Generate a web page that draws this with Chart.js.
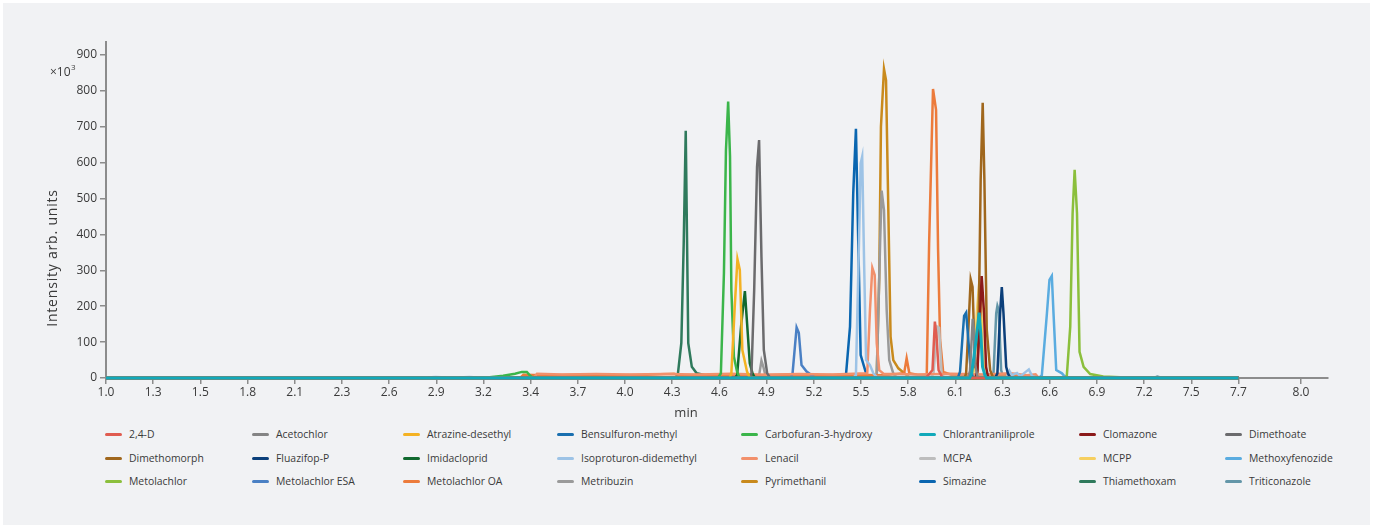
<!DOCTYPE html>
<html>
<head>
<meta charset="utf-8">
<script src="https://cdn.jsdelivr.net/npm/chart.js@4.4.1/dist/chart.umd.min.js"></script>
<style>
  html, body { margin: 0; padding: 0; background: #ffffff; }
  #panel { position: absolute; left: 3px; top: 3px; width: 1367px; height: 522px; background: #f1f2f4; }
  #chart { position: absolute; left: -3px; top: -3px; }
  .lg { position: absolute; font: 10.4px "Open Sans", sans-serif; color: #3a3a3a; white-space: nowrap; line-height: 14px; }
  .lg i { display: inline-block; width: 17px; height: 3px; border-radius: 2px; vertical-align: middle; margin-right: 7px; position: relative; top: -1px; }
</style>
</head>
<body>
<div id="panel">
  <canvas id="chart" width="1373" height="420"></canvas>
  <div id="legend"></div>
</div>
<script>
// compound names, legend order
var compounds = ['2,4-D', 'Acetochlor', 'Atrazine-desethyl', 'Bensulfuron-methyl', 'Carbofuran-3-hydroxy',
  'Chlorantraniliprole', 'Clomazone', 'Dimethoate', 'Dimethomorph', 'Fluazifop-P', 'Imidacloprid',
  'Isoproturon-didemethyl', 'Lenacil', 'MCPA', 'MCPP', 'Methoxyfenozide', 'Metolachlor', 'Metolachlor ESA',
  'Metolachlor OA', 'Metribuzin', 'Pyrimethanil', 'Simazine', 'Thiamethoxam', 'Triticonazole'];

var colors = ['#e05c50', '#848484', '#f4b223', '#1a6faf', '#3bb54a', '#12a9ba', '#8b1a1a', '#6b6b6d',
  '#a0671d', '#0b3f7a', '#11692f', '#9dc3e6', '#f2906b', '#bdbdbd', '#f6cf5f', '#5aace0', '#8bbf3c',
  '#4a80c4', '#ec7b3b', '#9a9a9a', '#c98a1c', '#0a66b0', '#2f7a5c', '#6396a8'];

// [time min, intensity x10^3]
var d24D = [[1.0,0],[5.85,0],[5.89,22],[5.904,157],[5.914,115],[5.926,22],[5.95,0],[7.7,0]];
var acetochlor = [[1.0,0],[6.10,0],[6.112,20],[6.122,110],[6.128,165],[6.134,140],[6.142,40],[6.155,5],[6.17,0],[7.7,0]];
var atrazineDesethyl = [[1.0,0],[4.69,0],[4.700,13],[4.720,199],[4.736,331],[4.750,301],[4.765,78],[4.793,17],[4.81,0],[7.7,0]];
var bensulfuronMethyl = [[1.0,0],[6.04,0],[6.053,18],[6.069,124],[6.077,173],[6.089,182],[6.102,106],[6.116,22],[6.13,0],[7.7,0]];
var carbofuran3OH = [[1.0,0],[3.20,0],[3.27,2],[3.35,6],[3.42,12],[3.46,17],[3.49,17],[3.51,6],[3.53,0],[4.62,0],[4.638,13],[4.656,292],[4.668,635],[4.681,770],[4.692,617],[4.700,245],[4.715,59],[4.734,17],[4.75,0],[7.7,0]];
var chlorantraniliprole = [[1.0,0],[6.11,0],[6.122,13],[6.148,106],[6.166,182],[6.176,124],[6.186,31],[6.2,8],[6.21,0],[7.7,0]];
var clomazone = [[1.0,0],[6.145,0],[6.156,22],[6.172,180],[6.181,284],[6.195,180],[6.207,31],[6.22,0],[7.7,0]];
var dimethoate = [[1.0,0],[4.81,0],[4.819,13],[4.835,245],[4.852,589],[4.864,663],[4.878,338],[4.892,78],[4.912,13],[4.93,0],[7.7,0]];
var dimethomorph = [[1.0,0],[6.08,0],[6.089,13],[6.102,134],[6.116,275],[6.127,254],[6.142,31],[6.156,22],[6.167,273],[6.175,552],[6.187,767],[6.197,552],[6.211,134],[6.231,22],[6.25,0],[7.7,0]];
var fluazifopP = [[1.0,0],[6.26,0],[6.274,13],[6.290,180],[6.300,253],[6.310,180],[6.326,31],[6.336,13],[6.35,0],[7.7,0]];
var imidacloprid = [[1.0,0],[4.72,0],[4.734,8],[4.759,152],[4.780,242],[4.793,152],[4.809,41],[4.825,13],[4.84,0],[7.7,0]];
var isoproturonDidemethyl = [[1.0,0],[2.85,0],[2.95,3],[3.05,1],[3.15,3],[3.25,0],[5.42,0],[5.437,8],[5.455,376],[5.465,598],[5.474,617],[5.485,329],[5.497,50],[5.520,36],[5.540,13],[5.56,3],[6.33,3],[6.345,20],[6.36,8],[6.39,14],[6.41,5],[6.46,24],[6.48,5],[6.52,0],[7.7,0]];
var lenacil = [[1.0,0],[3.53,0],[3.55,12],[3.7,10],[3.9,11],[4.1,10],[4.3,11],[4.5,10],[4.7,12],[4.9,9],[5.1,11],[5.3,10],[5.504,13],[5.520,189],[5.534,307],[5.548,287],[5.560,97],[5.575,22],[5.6,12],[5.8,10],[6.0,12],[6.2,10],[6.35,13],[6.45,8],[6.5,10],[6.52,0],[7.7,0]];
var mcpa = [[1.0,0],[5.88,0],[5.896,13],[5.918,143],[5.929,140],[5.944,13],[5.96,0],[7.7,0]];
var mcpp = [[1.0,0],[6.125,0],[6.136,22],[6.152,180],[6.166,262],[6.176,236],[6.186,87],[6.195,22],[6.21,0],[7.7,0]];
var methoxyfenozide = [[1.0,0],[6.52,0],[6.537,8],[6.567,180],[6.582,273],[6.596,284],[6.606,180],[6.622,22],[6.656,13],[6.68,0],[7.7,0]];
var metolachlor = [[1.0,0],[6.67,0],[6.685,8],[6.705,143],[6.719,459],[6.731,580],[6.745,459],[6.760,73],[6.784,31],[6.823,11],[6.9,4],[7.0,2],[7.1,0],[7.7,0]];
var metolachlorEsa = [[1.0,0],[5.05,0],[5.062,13],[5.086,141],[5.099,126],[5.115,36],[5.145,18],[5.174,8],[5.2,0],[7.7,0]];
var metolachlorOa = [[1.0,0],[3.45,0],[3.47,9],[3.6,8],[3.8,9],[4.0,8],[4.2,9],[4.36,12],[4.4,8],[4.6,9],[4.8,8],[5.0,9],[5.2,8],[5.4,9],[5.6,8],[5.722,13],[5.737,55],[5.753,13],[5.8,9],[5.856,8],[5.870,375],[5.893,805],[5.911,747],[5.923,357],[5.935,106],[5.953,17],[6.0,9],[6.2,8],[6.4,9],[6.45,0],[7.7,0]];
var metribuzin = [[1.0,0],[4.86,0],[4.866,13],[4.878,48],[4.89,30],[4.905,0],[5.55,0],[5.560,8],[5.580,375],[5.589,522],[5.603,468],[5.619,189],[5.634,50],[5.658,13],[5.68,0],[7.7,0]];
var pyrimethanil = [[1.0,0],[5.55,0],[5.560,8],[5.575,282],[5.585,700],[5.603,861],[5.615,830],[5.642,115],[5.658,50],[5.688,27],[5.737,8],[5.76,0],[7.7,0]];
var simazine = [[1.0,0],[5.36,0],[5.378,8],[5.402,143],[5.421,514],[5.437,694],[5.451,375],[5.465,64],[5.500,8],[5.52,0],[7.7,0]];
var thiamethoxam = [[1.0,0],[4.37,0],[4.384,13],[4.404,98],[4.418,374],[4.430,689],[4.445,97],[4.466,31],[4.495,13],[4.57,5],[4.6,0],[7.7,0]];
var triticonazole = [[1.0,0],[6.24,0],[6.251,13],[6.267,180],[6.274,201],[6.282,189],[6.296,22],[6.31,0],[7.2,0],[7.22,4],[7.25,0],[7.7,0]];

var series = [d24D, acetochlor, atrazineDesethyl, bensulfuronMethyl, carbofuran3OH, chlorantraniliprole,
  clomazone, dimethoate, dimethomorph, fluazifopP, imidacloprid, isoproturonDidemethyl, lenacil, mcpa, mcpp,
  methoxyfenozide, metolachlor, metolachlorEsa, metolachlorOa, metribuzin, pyrimethanil, simazine,
  thiamethoxam, triticonazole];

// axis ticks (x labels are as printed on the original)
var xTickValues = [1.0, 1.279, 1.558, 1.838, 2.117, 2.396, 2.675, 2.954, 3.233, 3.513, 3.792, 4.071, 4.35,
  4.629, 4.908, 5.188, 5.467, 5.746, 6.025, 6.304, 6.583, 6.863, 7.142, 7.421, 7.7, 8.07];
var xTickLabels = ['1.0', '1.3', '1.5', '1.8', '2.1', '2.3', '2.6', '2.9', '3.2', '3.4', '3.7', '4.0', '4.3',
  '4.6', '4.9', '5.2', '5.5', '5.8', '6.1', '6.3', '6.6', '6.9', '7.2', '7.5', '7.7', '8.0'];
var yTickValues = [0, 100, 200, 300, 400, 500, 600, 700, 800, 900];

var axisColor = '#8c8c8c';
var textColor = '#3a3a3a';
var fontFamily = '"Open Sans", sans-serif';

var datasets = compounds.map(function(name, i) {
  var onTop = name === 'Chlorantraniliprole';
  return {
    label: name,
    data: series[i].map(function(p) { return { x: p[0], y: p[1] }; }),
    borderColor: colors[i],
    backgroundColor: colors[i],
    borderWidth: onTop ? 3 : 2.5,
    pointRadius: 0,
    tension: 0,
    fill: false,
    clip: false,
    // teal trace sits over the others along the baseline
    order: onTop ? -1 : 0
  };
});

var axisTitles = {
  id: 'axisTitles',
  afterDraw: function(chart) {
    var ctx = chart.ctx;
    ctx.save();
    ctx.fillStyle = textColor;
    ctx.font = '13px ' + fontFamily;
    ctx.textAlign = 'center';
    ctx.textBaseline = 'middle';
    ctx.fillText('min', 686, 413);
    ctx.save();
    ctx.translate(53, 258);
    ctx.rotate(-Math.PI / 2);
    ctx.font = '14px ' + fontFamily;
    ctx.letterSpacing = '0.8px';
    ctx.fillText('Intensity arb. units', 0, 0);
    ctx.restore();
    ctx.textAlign = 'left';
    ctx.font = '12px ' + fontFamily;
    ctx.fillText('\u00d710', 50, 73);
    ctx.font = '8px ' + fontFamily;
    ctx.fillText('3', 71, 68);
    ctx.restore();
  }
};

var chart = new Chart(document.getElementById('chart'), {
  type: 'line',
  data: { datasets: datasets },
  options: {
    responsive: false,
    animation: false,
    devicePixelRatio: 1,
    layout: { padding: { left: 0, top: 42, right: 45, bottom: 0 } },
    plugins: { legend: { display: false }, tooltip: { enabled: false } },
    scales: {
      x: {
        type: 'linear',
        min: 1.0,
        max: 8.23,
        afterFit: function(s) { s.height = 42; },
        afterBuildTicks: function(s) { s.ticks = xTickValues.map(function(v) { return { value: v }; }); },
        ticks: {
          autoSkip: false, maxRotation: 0, padding: 1, color: textColor,
          font: { family: fontFamily, size: 12 },
          callback: function(v, i) { return xTickLabels[i]; }
        },
        grid: { drawOnChartArea: false, tickLength: 6, color: axisColor, lineWidth: 1.5 },
        border: { color: axisColor, width: 2 }
      },
      y: {
        min: 0,
        max: 936,
        afterFit: function(s) { s.width = 106; },
        afterBuildTicks: function(s) { s.ticks = yTickValues.map(function(v) { return { value: v }; }); },
        ticks: { padding: 3, color: textColor, font: { family: fontFamily, size: 12 } },
        grid: { drawOnChartArea: false, tickLength: 6, color: axisColor, lineWidth: 1.5 },
        border: { color: axisColor, width: 2 }
      }
    }
  },
  plugins: [axisTitles]
});

// legend grid, 8 columns x 3 rows
var legendCols = [105, 252, 403, 557, 741, 919, 1079, 1225];
var legendRows = [434, 458, 481];
var legendEl = document.getElementById('legend');
chart.data.datasets.forEach(function(ds, i) {
  var item = document.createElement('div');
  item.className = 'lg';
  item.style.left = (legendCols[i % 8] - 3) + 'px';
  item.style.top = (legendRows[Math.floor(i / 8)] - 3 - 7) + 'px';
  item.innerHTML = '<i style="background:' + ds.borderColor + '"></i>' + ds.label;
  legendEl.appendChild(item);
});
</script>
</body>
</html>
